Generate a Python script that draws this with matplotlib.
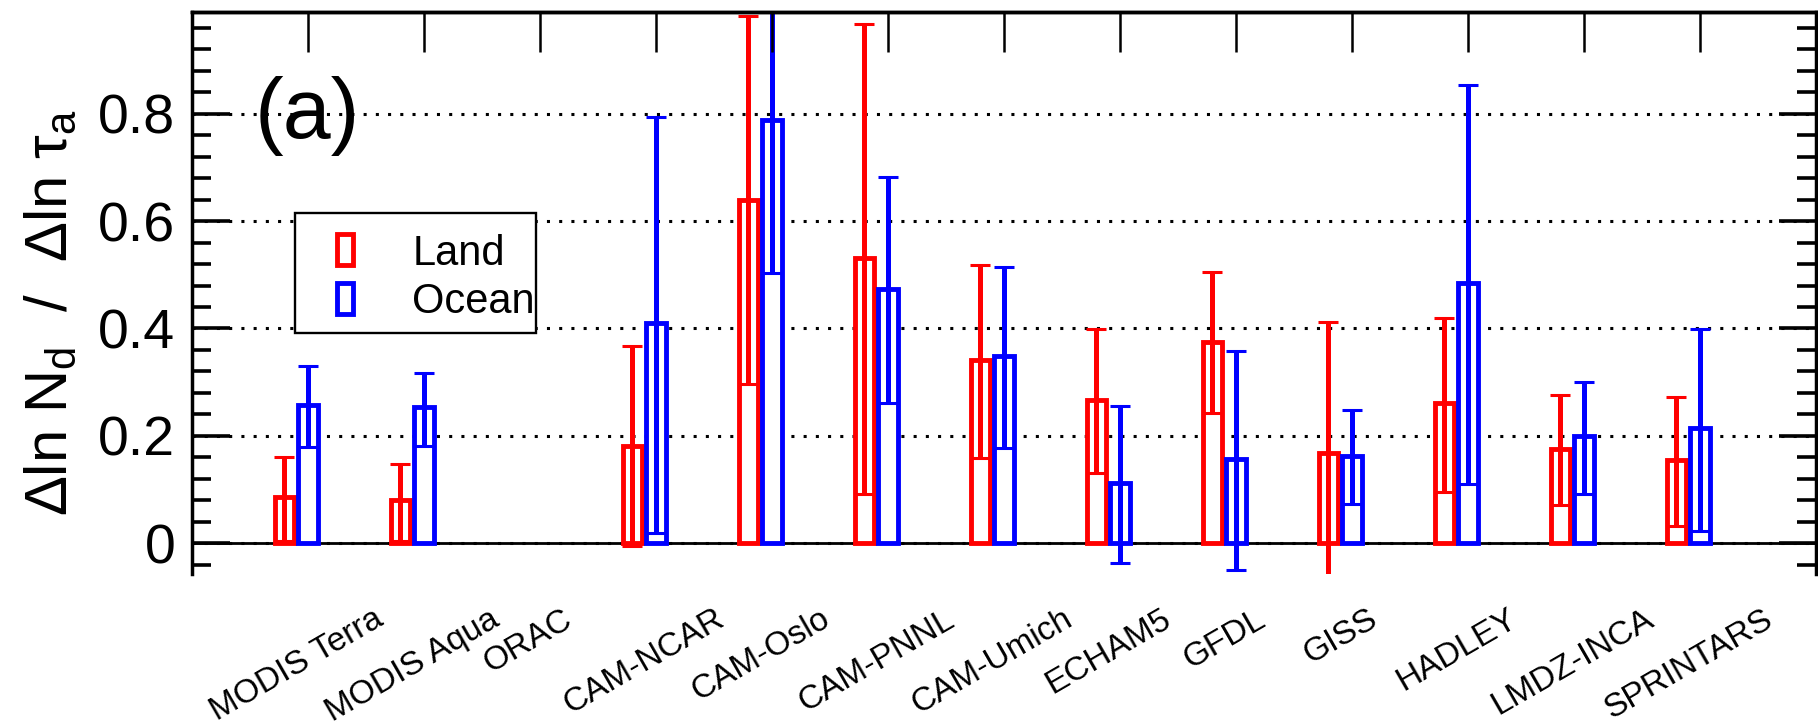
import numpy as np
import matplotlib.pyplot as plt
import matplotlib.ticker as mticker
from matplotlib.patches import Rectangle

plt.rcParams['font.family'] = ['Liberation Sans', 'DejaVu Sans']
plt.rcParams['mathtext.fontset'] = 'custom'
plt.rcParams['mathtext.rm'] = 'Liberation Sans'
plt.rcParams['mathtext.it'] = 'Liberation Sans:italic'

models = ['MODIS Terra', 'MODIS Aqua', 'ORAC', 'CAM-NCAR', 'CAM-Oslo', 'CAM-PNNL',
          'CAM-Umich', 'ECHAM5', 'GFDL', 'GISS', 'HADLEY', 'LMDZ-INCA', 'SPRINTARS']

# slope of ln Nd vs ln tau_a, with lower / upper range (ORAC has none)
land = [0.086, 0.080, np.nan, 0.181, 0.640, 0.532, 0.341, 0.266, 0.375, 0.169, 0.261, 0.176, 0.155]
land_lo = [0.004, 0.004, np.nan, -0.005, 0.296, 0.091, 0.159, 0.131, 0.242, -0.080, 0.096, 0.071, 0.032]
land_hi = [0.161, 0.147, np.nan, 0.368, 0.982, 0.968, 0.518, 0.399, 0.506, 0.412, 0.419, 0.277, 0.272]

ocean = [0.257, 0.254, np.nan, 0.410, 0.788, 0.473, 0.349, 0.112, 0.157, 0.163, 0.485, 0.199, 0.214]
ocean_lo = [0.180, 0.181, np.nan, 0.020, 0.504, 0.261, 0.178, -0.036, -0.050, 0.073, 0.110, 0.092, 0.023]
ocean_hi = [0.331, 0.318, np.nan, 0.793, 1.100, 0.682, 0.514, 0.256, 0.358, 0.248, 0.853, 0.301, 0.399]

fig = plt.figure(figsize=(18.18, 7.22), dpi=100)
ax = fig.add_axes([0.1056, 0.2044, 0.8933, 0.7794])

x = np.arange(len(models))
ax.axhline(0, color='black', lw=2, zorder=0.9)

series = [(-0.205, land, land_lo, land_hi, 'red'),
          (0.0, ocean, ocean_lo, ocean_hi, 'blue')]
for offset, vals, lo, hi, color in series:
    vals, lo, hi = np.array(vals), np.array(lo), np.array(hi)
    ok = np.isfinite(vals)
    xs = x[ok] + offset
    ax.bar(xs, vals[ok], width=0.165, facecolor='white', edgecolor=color,
           linewidth=3.5, zorder=1)
    ax.errorbar(xs, vals[ok], yerr=[vals[ok] - lo[ok], hi[ok] - vals[ok]], fmt='none',
                ecolor=color, elinewidth=3.6, capsize=7, capthick=2.2, zorder=2)

ax.set_xlim(-1, 13)
ax.set_ylim(-0.058, 0.99)

# y axis: ticks inside on both sides
ax.yaxis.set_major_locator(mticker.MultipleLocator(0.2))
ax.yaxis.set_minor_locator(mticker.MultipleLocator(0.04))
ax.yaxis.set_major_formatter(mticker.FuncFormatter(lambda v, p: f'{round(v, 2):g}'))
ax.tick_params(axis='y', which='both', direction='in', left=True, right=True,
               labelsize=40, pad=12, width=2.6)
ax.tick_params(axis='y', which='major', length=27)
ax.tick_params(axis='y', which='minor', length=14)

ax.set_axisbelow(True)
ax.yaxis.grid(True, which='major', color='black', linestyle=(0, (1, 3)), linewidth=2.2)

# model names under each pair of bars
ax.set_xticks(x - 0.1)
ax.set_xticklabels(models, rotation=30, ha='center', fontsize=24)
ax.tick_params(axis='x', length=0, pad=21)

# category marks along the top
top = ax.secondary_xaxis('top')
top.set_xticks(x)
top.tick_params(direction='in', length=29, width=1.8, labeltop=False)
top.spines['top'].set_linewidth(2.5)
top.set_zorder(5)

ax.spines['bottom'].set_visible(False)
for side in ['left', 'right', 'top']:
    ax.spines[side].set_linewidth(2.5)

ax.set_ylabel('Δln N$_{\\rm d}$  /  Δln τ$_{\\rm a}$', fontsize=43)
ax.yaxis.set_label_coords(-0.070, 0.465)

ax.text(0.0388, 0.8155, '(a)', transform=ax.transAxes, fontsize=62,
        ha='left', va='center')

# legend box
ax.add_patch(Rectangle((0.0635, 0.4295), 0.1481, 0.2130, transform=ax.transAxes,
                       facecolor='white', edgecolor='black', lw=1.7, zorder=4))
for cy, ty, color, name in [(0.5782, 0.550, 'red', 'Land'), (0.4912, 0.4647, 'blue', 'Ocean')]:
    ax.add_patch(Rectangle((0.0941 - 0.0051, cy - 0.0276), 0.0102, 0.0551,
                           transform=ax.transAxes, facecolor='white', edgecolor=color,
                           lw=3.5, zorder=5))
    ax.text(0.1357, ty, name, transform=ax.transAxes, fontsize=30,
            ha='left', va='baseline', zorder=5)

fig.savefig('out.png', dpi=100)
